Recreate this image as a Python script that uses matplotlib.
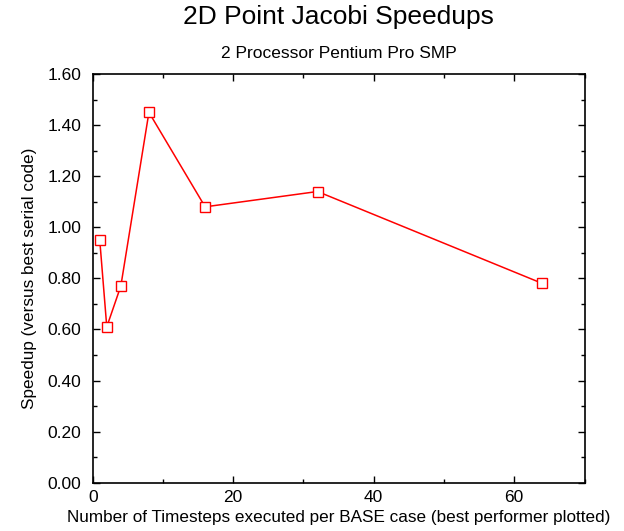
import numpy as np
import matplotlib
matplotlib.use("Agg")
import matplotlib.pyplot as plt
from matplotlib.ticker import MultipleLocator, FormatStrFormatter

plt.rcParams['font.family'] = ['Liberation Sans', 'DejaVu Sans']

# timesteps per BASE case vs speedup
timesteps = [1, 2, 4, 8, 16, 32, 64]
speedup = [0.95, 0.61, 0.77, 1.45, 1.08, 1.14, 0.78]

fig = plt.figure(figsize=(6.24, 5.31), dpi=100)
ax = fig.add_axes([0.1486, 0.0910, 0.7881, 0.7696])

ax.plot(timesteps, speedup, color='red', lw=1.1, marker='s', ms=7.5,
        mfc='white', mec='red', mew=1.0)

ax.set_xlim(0, 70)
ax.set_ylim(0, 1.6)
ax.xaxis.set_major_locator(MultipleLocator(20))
ax.xaxis.set_minor_locator(MultipleLocator(10))
ax.yaxis.set_major_locator(MultipleLocator(0.2))
ax.yaxis.set_minor_locator(MultipleLocator(0.1))
ax.yaxis.set_major_formatter(FormatStrFormatter('%.2f'))
ax.tick_params(which='both', direction='in', top=True, right=True,
               labelsize=12.5, width=1)
ax.tick_params(which='major', length=5)
ax.tick_params(which='minor', length=3)
ax.tick_params(axis='y', pad=8)
ax.tick_params(axis='x', pad=5)
for s in ax.spines.values():
    s.set_linewidth(1.2)

ax.set_xlabel('Number of Timesteps executed per BASE case (best performer plotted)',
              fontsize=12.3, labelpad=4)
ax.set_ylabel('Speedup (versus best serial code)', fontsize=12.3, labelpad=8)

fig.text(0.543, 0.968, '2D Point Jacobi Speedups', ha='center', va='center',
         fontsize=19)
fig.text(0.543, 0.899, '2 Processor Pentium Pro SMP', ha='center',
         va='center', fontsize=12.5)

fig.savefig('out.png', dpi=100)
